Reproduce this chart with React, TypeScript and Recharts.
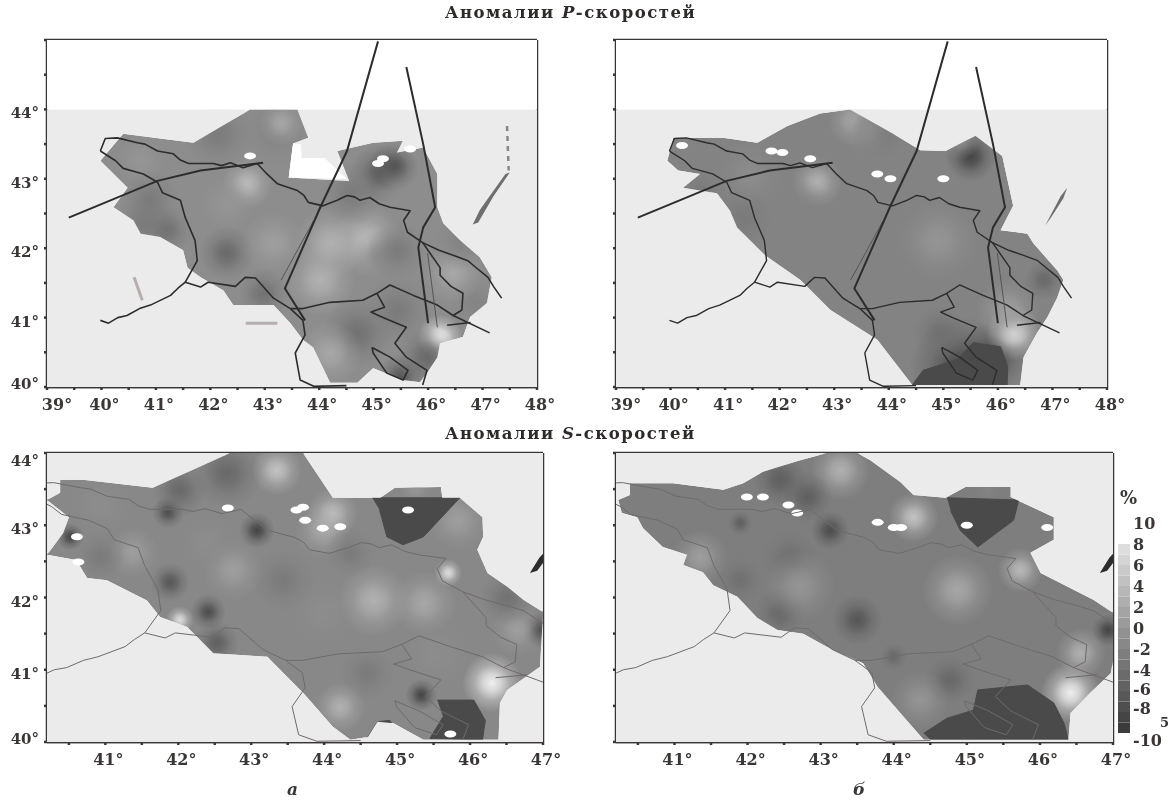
import { BarChart, Bar, ScatterChart, Scatter, XAxis, YAxis, ZAxis, ReferenceLine } from 'recharts';

type Pair = number[];

// borders, degrees lon/lat, same for all four maps
const borderNorth: Pair[] = [[39.98,43.40],[40.07,43.58],[40.29,43.59],[40.66,43.52],[40.8,43.5],[41.03,43.40],[41.32,43.36],[41.45,43.27],[41.6,43.22],[42.06,43.22],[42.2,43.19],[42.37,43.23],[42.6,43.16],[42.86,43.22],[43.04,43.07],[43.23,42.93],[43.6,42.83],[43.72,42.76],[43.8,42.66],[44.07,42.61],[44.33,42.69],[44.51,42.76],[44.65,42.74],[44.75,42.69],[44.93,42.73],[45.1,42.64],[45.3,42.59],[45.67,42.54],[45.55,42.4],[45.62,42.23],[45.9,42.08],[46.2,41.97],[46.46,41.9],[46.73,41.82],[46.85,41.74],[47.1,41.58],[47.2,41.45],[47.35,41.28]];
const borderAbkhaz: Pair[] = [[39.98,43.40],[40.26,43.26],[40.4,43.15],[40.77,43.07],[41.03,42.95],[41.12,42.8],[41.45,42.69],[41.54,42.44],[41.72,42.11],[41.76,41.82],[41.54,41.51]];
const borderTurkey: Pair[] = [[39.98,40.96],[40.13,40.92],[40.3,41],[40.47,41.03],[40.7,41.13],[40.9,41.18],[41.27,41.32],[41.4,41.42],[41.54,41.51],[41.82,41.44],[41.96,41.51],[42.46,41.45],[42.64,41.58],[42.83,41.57],[43.16,41.28],[43.47,41.13]];
const borderAzeri: Pair[] = [[45.9,42.08],[46.22,41.72],[46.22,41.61],[46.42,41.45],[46.64,41.35],[46.62,41.11],[46.46,41.03],[46.17,41.18],[45.73,41.32],[45.3,41.47],[45.06,41.35],[44.8,41.25],[44.2,41.22],[43.7,41.13],[43.47,41.13]];
const borderArmeniaW: Pair[] = [[43.47,41.13],[43.7,40.96],[43.74,40.75],[43.56,40.49],[43.65,40.1],[43.9,40.01],[44.5,40.02]];
const borderArmeniaE: Pair[] = [[45.06,41.35],[45.2,41.15],[44.95,41.08],[45.17,41.0],[45.6,40.86],[45.39,40.63],[45.6,40.43],[45.98,40.24],[45.9,40.03]];
const lakeSevan: Pair[] = [[44.97,40.57],[45.3,40.43],[45.63,40.24],[45.54,40.1],[45.24,40.2],[44.99,40.49],[44.97,40.57]];
const borderIran: Pair[] = [[46.46,41.03],[47.13,40.78]];
const borderIran2: Pair[] = [[46.35,40.89],[46.78,40.93]];
const borders = [borderNorth, borderAbkhaz, borderTurkey, borderAzeri, borderArmeniaW, borderArmeniaE, lakeSevan, borderIran, borderIran2];

// profile lines on the P maps
const profileWest: Pair[] = [[39.4,42.44],[41.03,42.97],[41.82,43.12],[42.97,43.23]];
const profileMiddle: Pair[] = [[45.08,44.98],[44.51,43.4],[44.02,42.59],[43.37,41.42],[43.74,40.96]];
const profileEast: Pair[] = [[45.6,44.61],[45.91,43.5],[46.13,42.59],[45.91,42.3],[45.82,42.01],[46.0,40.92]];
const profileMiddleThin: Pair[] = [[43.9,42.4],[43.3,41.54]];
const profileEastThin: Pair[] = [[45.99,41.93],[46.17,40.86]];
const profiles = [profileWest, profileMiddle, profileEast];
const profilesThin = [profileMiddleThin, profileEastThin];

const caspianLong: Pair[] = [[47.5,43.09],[47.42,43.07],[46.95,42.55],[46.82,42.34],[46.92,42.37],[47.2,42.75]];
const caspianShort: Pair[] = [[47.27,42.87],[47.15,42.75],[46.87,42.33],[46.98,42.45],[47.2,42.72]];
const caspianDots: Pair[] = [[47.45,43.76],[47.48,43.12]];

// coverage of each tomography map
const areaPa: Pair[] = [[42.73,44],[43.6,44],[43.8,43.59],[43.52,43.51],[43.44,43.02],[44.55,42.97],[44.33,43.40],[44.99,43.52],[45.54,43.55],[45.43,43.38],[45.91,43.45],[46.17,43.07],[46.17,42.59],[46.28,42.36],[46.59,42.11],[46.95,41.87],[47.17,41.58],[47.08,41.21],[46.77,41.01],[46.64,40.72],[46.22,40.63],[46.17,40.43],[45.98,40.2],[45.85,40.07],[45.54,40.1],[44.99,40.27],[44.7,40.06],[44.2,40.06],[43.89,40.57],[43.7,40.68],[43.47,40.92],[43.16,41.18],[42.42,41.18],[42.24,41.39],[41.82,41.58],[41.58,41.72],[41.5,41.97],[41.08,42.16],[40.72,42.21],[40.59,42.4],[40.22,42.59],[40.48,42.87],[39.98,43.26],[40.4,43.65],[41.69,43.52],[42.13,43.72]];
const areaPb: Pair[] = [[43.29,44],[44.08,43.65],[44.58,43.41],[45.04,43.4],[45.59,43.62],[46.08,43.33],[46.28,42.61],[46.05,42.26],[46.54,42.21],[46.65,42.07],[47.09,41.68],[47.2,41.54],[47.09,41.29],[46.91,41.01],[46.72,40.78],[46.47,40.43],[46.41,40.03],[44.43,40.03],[43.79,40.68],[42.93,41.11],[42.38,41.54],[41.73,41.9],[41.22,42.3],[41.09,42.54],[40.85,42.79],[40.23,42.87],[40.54,43.07],[40.14,43.12],[39.94,43.26],[40.05,43.59],[40.96,43.59],[41.59,43.52],[42.14,43.76],[42.74,43.94]];
const areaSa: Pair[] = [[42.71,44],[41.65,43.52],[40.69,43.63],[40.38,43.63],[40.38,43.45],[40.2,43.35],[40.5,43.11],[40.42,42.89],[40.2,42.59],[40.6,42.52],[40.75,42.27],[41.02,42.24],[41.57,41.96],[41.75,41.73],[42.12,41.59],[42.48,41.23],[43.22,41.18],[43.63,40.76],[43.71,40.68],[44.12,40.21],[44.36,40.03],[44.6,40.07],[44.73,40.28],[44.95,40.26],[45.36,40.03],[46.39,40.03],[46.41,40.54],[46.51,40.72],[46.96,41.04],[47,41.8],[46.73,41.97],[46.51,42.15],[46.24,42.34],[46.1,42.66],[46.18,42.84],[46.17,43.11],[45.86,43.38],[45.62,43.38],[45.6,43.53],[44.97,43.52],[44.77,43.38],[44.12,43.38],[43.71,44]];
const areaSb: Pair[] = [[43.09,44],[42.72,43.9],[42.21,43.74],[41.94,43.58],[41.67,43.49],[40.98,43.58],[40.39,43.58],[40.39,43.42],[40.23,43.35],[40.28,43.17],[40.49,43.11],[40.57,42.96],[40.84,42.7],[41.17,42.59],[41.12,42.45],[41.39,42.35],[41.53,42.17],[41.86,42.01],[42.13,41.72],[42.41,41.55],[42.76,41.5],[43.17,41.27],[43.58,41.09],[43.78,40.76],[44.09,40.4],[44.41,40.03],[46.39,40.03],[46.42,40.4],[46.69,40.68],[46.97,40.95],[47,41.13],[47,41.79],[46.73,41.97],[46.01,42.34],[45.87,42.62],[46.19,42.8],[46.19,43.11],[45.6,43.39],[45.6,43.53],[44.98,43.53],[44.71,43.38],[44.27,43.42],[44.09,43.6],[43.68,43.9],[43.5,44]];

// hard edged low velocity patches
const lowPb: Pair[][] = [[[44.43,40.03],[44.63,40.24],[45.26,40.4],[45.55,40.64],[46.05,40.58],[46.18,40.29],[46.17,40.03]]];
const lowSa: Pair[][] = [
  [[44.66,43.38],[45.86,43.38],[45.36,42.84],[45.08,42.73],[44.86,42.84],[44.76,43.21]],
  [[45.55,40.58],[46.05,40.58],[46.21,40.3],[46.17,40.03],[45.45,40.05],[45.63,40.35]],
  [[44.6,40.07],[44.73,40.28],[44.9,40.3],[44.97,40.17],[44.9,40.03],[44.5,40.03]],
];
const lowSb: Pair[][] = [
  [[44.73,43.38],[45.71,43.35],[45.64,43.07],[45.15,42.7],[44.91,42.93],[44.78,43.2]],
  [[44.41,40.12],[44.73,40.33],[45.09,40.44],[45.15,40.72],[45.83,40.79],[46.19,40.54],[46.33,40.26],[46.39,40.03],[44.5,40.03]],
];

// white part of the first map, no coverage there
const voidPa: Pair[][] = [[[43.52,43.51],[43.66,43.5],[43.68,43.3],[44.1,43.3],[44.5,43.0],[43.44,43.02]]];

// lon, lat, anomaly %, spread
const blobsPa: Pair[] = [[44.2,42.07,3,.1],[44.02,41.54,3,.1],[44.88,42.11,4,.1],[45.12,41.87,-1,.06],[42.3,41.93,-5,.06],[42.68,42.93,4,.05],[45.36,43.16,-8,.05],[45.1,43.07,-6,.07],[43.2,43.7,-2,.12],[43.3,43.8,2,.04],[46.22,40.72,10,.04],[44.7,40.78,-4,.1],[44.2,40.49,2,.08],[45.98,40.43,-5,.07],[45.49,40.14,-7,.04],[45.43,41.1,-3,.1],[46.9,41.2,-2,.06],[46.46,41.64,2,.07],[46.6,42.07,-2,.06],[40.9,42.69,-3,.07],[40.77,42.36,-3,.06],[41.2,42.26,-4,.05],[42.13,43.65,-3,.1],[41.8,42.69,-1,.08],[42.3,42.64,0,.06],[43.16,42.07,1,.08],[42.97,41.35,-4,.05],[44.6,42.79,-3,.08],[45.54,42.73,-1,.08],[45.43,41.97,-3,.07],[40.72,43.26,0,.05]];
const blobsPb: Pair[] = [[45.5,43.32,-9,.05],[45.31,43.55,-1,.03],[43.35,43.83,2,.05],[43.84,43.67,-3,.06],[42.69,42.95,3,.05],[43.61,43.7,-1,.05],[45.31,40.29,-8,.2],[45.92,40.43,-8,.1],[44.94,40.78,-4,.06],[46.29,40.78,8,.06],[44.45,41.72,-2,.1],[46.84,41.54,-5,.03],[44.9,42.11,0,.12],[46.18,41.1,1,.08],[40.54,42.79,-3,.06],[41.33,42.44,-3,.07],[42.38,42.5,-2,.1],[41.46,43.07,-1,.08]];
const blobsSa: Pair[] = [[43.08,42.93,-9,.025],[41.86,43.18,-8,.02],[41.89,42.21,-7,.03],[42.41,41.8,-8,.025],[40.52,42.84,-9,.015],[43.35,43.76,5,.05],[42.67,43.72,-5,.1],[42.02,43.49,-5,.06],[41.38,42.62,1,.05],[40.93,42.56,-3,.05],[40.93,43.3,-1,.07],[42.53,41.37,-6,.04],[42.02,41.69,8,.015],[43.44,42.24,-3,.08],[42.75,42.38,1,.07],[42.4,42.75,-1,.05],[45.83,43.07,1,.07],[45.7,42.34,8,.015],[46.96,41.55,-8,.025],[46.65,41.55,1,.05],[46.3,40.82,10,.07],[44.22,40.48,3,.05],[44.59,40.95,-3,.06],[44.68,41.96,3,.1],[45.37,41.92,2,.08],[44.0,41.79,-1,.08],[45.55,41.23,-1,.08],[46.51,42.0,-4,.06],[43.98,42.93,2,.06],[44.12,43.17,4,.05],[44.36,42.62,-3,.05],[45.33,40.65,-9,.02],[45.25,43.5,0,.02]];
const blobsSb: Pair[] = [[43.13,42.93,-8,.03],[43.5,41.69,-7,.05],[41.9,43.03,-6,.012],[41.9,42.24,-4,.04],[42.45,41.79,-5,.05],[42.58,42.55,-4,.06],[43.27,43.76,3,.07],[42.45,43.63,-6,.06],[42.82,43.39,-6,.05],[41.35,42.56,1,.06],[42.72,42.15,0,.1],[46.93,41.55,-9,.02],[45.73,42.38,4,.04],[44.27,43.11,5,.05],[46.42,40.68,10,.07],[44.77,40.86,-5,.05],[44.36,40.58,0,.07],[46.56,41.23,3,.05],[44.87,42.1,2,.1],[44,41.18,-5,.015],[45.28,43.49,-2,.015]];

// white spots, lon and lat
const gapsPa: Pair[] = [[42.73,43.33],[45.17,43.29],[45.08,43.22],[45.67,43.43]];
const gapsPb: Pair[] = [[40.21,43.48],[42.05,43.38],[41.85,43.4],[42.56,43.29],[43.79,43.07],[44.03,43],[45,43]];
const gapsSa: Pair[] = [[40.61,42.84],[40.63,42.49],[42.68,43.24],[43.62,43.21],[43.71,43.25],[43.74,43.07],[43.98,42.96],[44.22,42.98],[45.15,43.21],[45.73,40.11]];
const gapsSb: Pair[] = [[41.99,43.39],[42.21,43.39],[42.56,43.28],[42.68,43.17],[43.78,43.04],[44,42.97],[44.1,42.97],[45,43.0],[46.1,42.97]];

const faintPa: Pair[][] = [[[42.65,40.92],[43.23,40.92]],[[40.6,41.58],[40.75,41.25]]];

const topLonTicks = [39,39.5,40,40.5,41,41.5,42,42.5,43,43.5,44,44.5,45,45.5,46,46.5,47,47.5,48];
const bottomLonTicks = [40.5,41,41.5,42,42.5,43,43.5,44,44.5,45,45.5,46,46.5,47];
const topLatTicks = [40,40.5,41,41.5,42,42.5,43,43.5,44,44.5,45];
const bottomLatTicks = [40,40.5,41,41.5,42,42.5,43,43.5,44];
const scaleBands = [-10,-9,-8,-7,-6,-5,-4,-3,-2,-1,0,1,2,3,4,5,6,7];
const scaleTicks = [-10,-8,-6,-4,-2,0,2,4,6,8,10];

const FONT = '"DejaVu Serif", serif';
const INK = '#3a3636';

const gray = (v: number) => {
  const g = Math.round(150 + v * 9.5);
  return `rgb(${g},${g},${g})`;
};

const toPoints = (list: Pair[]) => list.map(([lon, lat]) => ({ lon, lat }));

const Blob = (p: any) => {
  const color = gray(p.payload.anomaly);
  const id = `blob${p.payload.anomaly}`;
  return (
    <g>
      <defs>
        <radialGradient id={id}>
          <stop offset="0%" stopColor={color} stopOpacity={0.95} />
          <stop offset="30%" stopColor={color} stopOpacity={0.7} />
          <stop offset="60%" stopColor={color} stopOpacity={0.3} />
          <stop offset="100%" stopColor={color} stopOpacity={0} />
        </radialGradient>
      </defs>
      <circle cx={p.cx} cy={p.cy} r={p.width / 2} fill={`url(#${id})`} />
    </g>
  );
};
const Gap = (p: any) => <ellipse cx={p.cx} cy={p.cy} rx={6} ry={3.5} fill="#fff" />;
const NoMark = () => <g />;

interface MapProps {
  left: number;
  top: number;
  width: number;
  height: number;
  lonDomain: number[];
  latDomain: number[];
  lonTicks: number[];
  latTicks: number[];
  area: Pair[];
  base: number;
  blobs: Pair[];
  gaps: Pair[];
  low?: Pair[][];
  voids?: Pair[][];
  caspian: Pair[];
  caspianFill: string;
  lineColor: string;
  lineWidth: number;
  lines?: Pair[][];
  thin?: Pair[][];
  faint?: Pair[][];
  dots?: Pair[];
  latLabels: boolean;
}

const MapPanel = (m: MapProps) => {
  const [x0, x1] = m.lonDomain;
  const [y0, y1] = m.latDomain;
  const outer: Pair[] = [[x0, 40], [x1, 40], [x1, 44], [x0, 44], [x0, 40]];
  const mask = [...outer, ...m.area, m.area[0]];

  const lonTick = (p: any) => {
    const v = p.payload.value;
    if (!Number.isInteger(v)) return <g />;
    return (
      <text x={p.x + (v === 39 ? 10 : 3)} y={p.y + 18} textAnchor="middle" fontFamily={FONT} fontWeight="bold" fontSize={16} fill={INK}>
        {v}°
      </text>
    );
  };
  const latTick = (p: any) => {
    const v = p.payload.value;
    if (!m.latLabels || !Number.isInteger(v) || v === 45) return <g />;
    const shift = v === y1 ? 13 : v === 40 ? 2 : 9;
    return (
      <text x={39} y={p.y + shift} textAnchor="end" fontFamily={FONT} fontWeight="bold" fontSize={15} fill={INK}>
        {v}°
      </text>
    );
  };

  return (
    <div style={{ position: 'absolute', left: m.left - 47, top: m.top - 40 }}>
      <ScatterChart width={m.width + 47 + 30} height={m.height + 40 + 34} margin={{ top: 40, right: 30, bottom: 0, left: 0 }}>
        <XAxis type="number" dataKey="lon" domain={m.lonDomain} ticks={m.lonTicks} allowDataOverflow interval={0} height={34} tick={lonTick} tickSize={3} stroke={INK} strokeWidth={2.5} />
        <YAxis type="number" dataKey="lat" domain={m.latDomain} ticks={m.latTicks} allowDataOverflow interval={0} width={47} tick={latTick} tickSize={3} stroke={INK} strokeWidth={2.5} />
        <ZAxis type="number" dataKey="spread" domain={[0, 1]} range={[0, 40000]} />
        <Scatter data={toPoints(m.area)} shape={NoMark} line={{ stroke: 'none', fill: gray(m.base) }} isAnimationActive={false} />
        <Scatter data={m.blobs.map(([lon, lat, anomaly, spread]) => ({ lon, lat, anomaly, spread }))} shape={Blob} isAnimationActive={false} />
        {(m.low ?? []).map((patch, i) => (
          <Scatter key={`low${i}`} data={toPoints(patch)} shape={NoMark} line={{ stroke: '#4a4a4a', strokeWidth: 1, fill: '#4a4a4a' }} isAnimationActive={false} />
        ))}
        <Scatter data={toPoints(mask)} shape={NoMark} line={{ stroke: 'none', fill: '#ebebeb', fillRule: 'evenodd' }} isAnimationActive={false} />
        {y1 > 44 && <Scatter data={toPoints([[x0, 44], [x1, 44], [x1, y1], [x0, y1]])} shape={NoMark} line={{ stroke: 'none', fill: '#fff' }} isAnimationActive={false} />}
        {(m.voids ?? []).map((patch, i) => (
          <Scatter key={`void${i}`} data={toPoints(patch)} shape={NoMark} line={{ stroke: 'none', fill: '#fff' }} isAnimationActive={false} />
        ))}
        <Scatter data={toPoints(m.gaps)} shape={Gap} isAnimationActive={false} />
        <Scatter data={toPoints(m.caspian)} shape={NoMark} line={{ stroke: 'none', fill: m.caspianFill }} isAnimationActive={false} />
        {m.dots && <Scatter data={toPoints(m.dots)} shape={NoMark} line={{ stroke: '#888', strokeWidth: 2.5, strokeDasharray: '5 5', fill: 'none' }} isAnimationActive={false} />}
        {(m.faint ?? []).map((l, i) => (
          <Scatter key={`faint${i}`} data={toPoints(l)} shape={NoMark} line={{ stroke: '#b5aeae', strokeWidth: 3, fill: 'none' }} isAnimationActive={false} />
        ))}
        {borders.map((l, i) => (
          <Scatter key={`border${i}`} data={toPoints(l)} shape={NoMark} line={{ stroke: m.lineColor, strokeWidth: m.lineWidth, fill: 'none', strokeLinejoin: 'round' }} isAnimationActive={false} />
        ))}
        {(m.thin ?? []).map((l, i) => (
          <Scatter key={`thin${i}`} data={toPoints(l)} shape={NoMark} line={{ stroke: '#555', strokeWidth: 1, fill: 'none' }} isAnimationActive={false} />
        ))}
        {(m.lines ?? []).map((l, i) => (
          <Scatter key={`line${i}`} data={toPoints(l)} shape={NoMark} line={{ stroke: '#2c2c2c', strokeWidth: 2, fill: 'none' }} isAnimationActive={false} />
        ))}
        <ReferenceLine x={x1} stroke={INK} strokeWidth={2.5} />
        <ReferenceLine y={y1} stroke={INK} strokeWidth={2.5} />
        <ReferenceLine y={y0} stroke={INK} strokeWidth={2.5} />
      </ScatterChart>
    </div>
  );
};

const bandRow: Record<string, number | string> = { name: '%' };
scaleBands.forEach((b) => {
  bandRow[`b${b}`] = 1;
});

const scaleTick = (p: any) => {
  const v = p.payload.value - 10;
  const nudge = v === -10 ? 7 : v === -8 ? -4 : v === -6 ? -2 : 0;
  return (
    <text x={15} y={p.y + 6 + nudge} fontFamily={FONT} fontWeight="bold" fontSize={16} fill={INK}>
      {v}
    </text>
  );
};

const ColorScale = () => (
  <div style={{ position: 'absolute', left: 1118, top: 510 }}>
    <BarChart width={58} height={250} data={[bandRow]} margin={{ top: 13, right: 0, bottom: 27, left: 0 }} barCategoryGap={0}>
      <XAxis dataKey="name" hide />
      <YAxis orientation="right" type="number" domain={[0, 20]} ticks={scaleTicks.map((t) => t + 10)} interval={0} width={46} tick={scaleTick} tickLine={false} axisLine={false} />
      {scaleBands.map((b) => (
        <Bar key={b} dataKey={`b${b}`} stackId="scale" fill={gray(b + 0.5)} isAnimationActive={false} />
      ))}
    </BarChart>
  </div>
);

const titleStyle = (top: number): React.CSSProperties => ({
  position: 'absolute',
  left: 445,
  top,
  fontFamily: FONT,
  fontWeight: 'bold',
  fontSize: 16.5,
  letterSpacing: 1.5,
  color: '#2e2a2a',
  whiteSpace: 'nowrap',
});
const noteStyle = (left: number, top: number, size: number, italic = false): React.CSSProperties => ({
  position: 'absolute',
  left,
  top,
  fontFamily: FONT,
  fontWeight: 'bold',
  fontSize: size,
  fontStyle: italic ? 'italic' : 'normal',
  color: INK,
  lineHeight: 1,
});

const App = () => {
  return (
    <div style={{ position: 'absolute', left: 0, top: 0, width: 1176, height: 802, overflow: 'hidden', background: '#fff', filter: 'blur(0.7px)' }}>
      <div style={titleStyle(3)}>Аномалии <i>P</i>-скоростей</div>
      <div style={titleStyle(424)}>Аномалии <i>S</i>-скоростей</div>
      <MapPanel left={47} top={40} width={490} height={347} lonDomain={[39, 48]} latDomain={[40, 45]} lonTicks={topLonTicks} latTicks={topLatTicks} area={areaPa} base={-1} blobs={blobsPa} gaps={gapsPa} voids={voidPa} caspian={caspianLong} caspianFill="#6e6e6e" dots={caspianDots} lineColor="#2c2c2c" lineWidth={1.6} lines={profiles} thin={profilesThin} faint={faintPa} latLabels />
      <MapPanel left={616} top={40} width={491} height={347} lonDomain={[39, 48]} latDomain={[40, 45]} lonTicks={topLonTicks} latTicks={topLatTicks} area={areaPb} base={-2} blobs={blobsPb} gaps={gapsPb} low={lowPb} caspian={caspianShort} caspianFill="#6e6e6e" lineColor="#2c2c2c" lineWidth={1.4} lines={profiles} thin={profilesThin} latLabels={false} />
      <MapPanel left={47} top={453} width={496} height={289} lonDomain={[40.2, 47]} latDomain={[40, 44]} lonTicks={bottomLonTicks} latTicks={bottomLatTicks} area={areaSa} base={-1.5} blobs={blobsSa} gaps={gapsSa} low={lowSa} caspian={caspianLong} caspianFill="#2c2c2c" lineColor="#6f6a6a" lineWidth={1} latLabels />
      <MapPanel left={616} top={453} width={497} height={289} lonDomain={[40.2, 47]} latDomain={[40, 44]} lonTicks={bottomLonTicks} latTicks={bottomLatTicks} area={areaSb} base={-2.5} blobs={blobsSb} gaps={gapsSb} low={lowSb} caspian={caspianLong} caspianFill="#2c2c2c" lineColor="#6f6a6a" lineWidth={1} latLabels={false} />
      <ColorScale />
      <div style={noteStyle(1120, 489, 18)}>%</div>
      <div style={noteStyle(1160, 716, 13)}>5</div>
      <div style={noteStyle(287, 781, 17, true)}>а</div>
      <div style={noteStyle(853, 781, 17, true)}>б</div>
    </div>
  );
};

export default App;
